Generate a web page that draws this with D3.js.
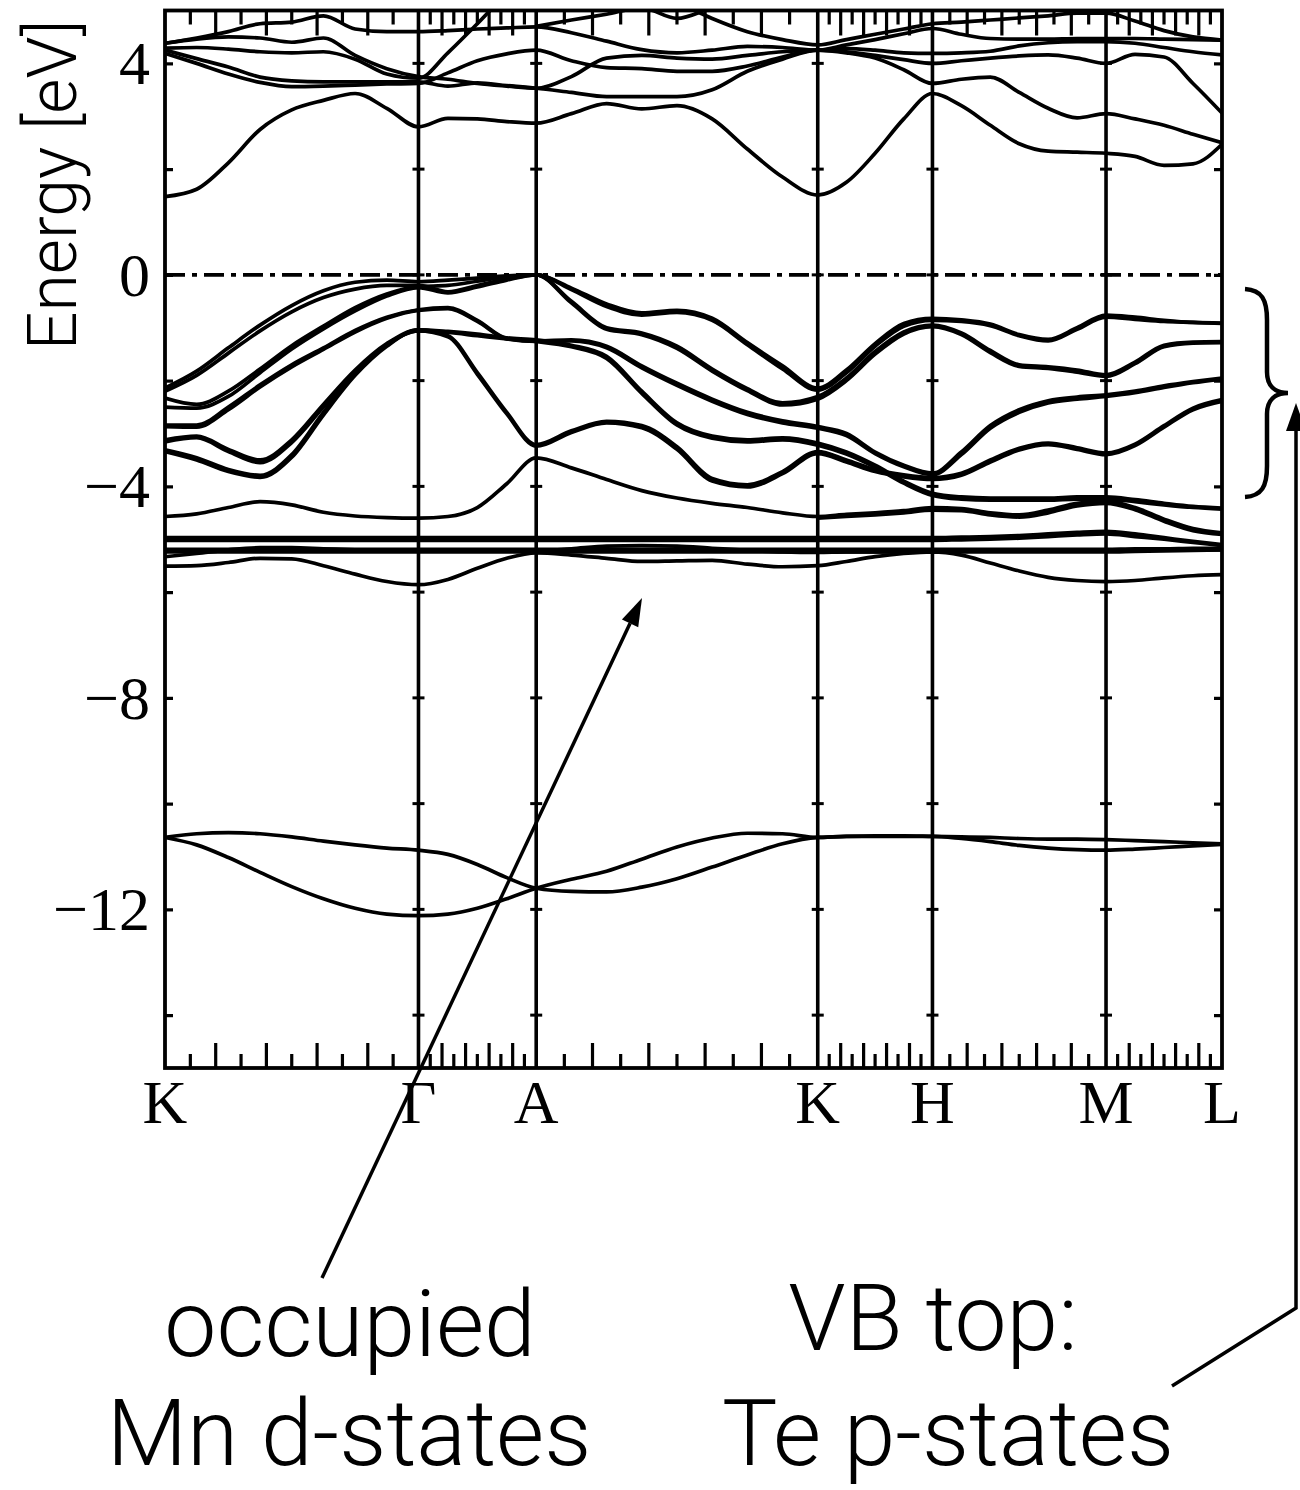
<!DOCTYPE html>
<html><head><meta charset="utf-8">
<script src="https://cdn.jsdelivr.net/npm/d3@7"></script>
<style>body{margin:0;background:#fff}</style>
</head><body>
<svg id="c" width="1300" height="1490"></svg>
<script>
// ---------- data ----------
const pathLabels = ["K","Γ","A","K","H","M","L"];
const pathK = [0, 1.012, 1.482, 2.606, 3.064, 3.757, 4.220];   // k-distance of high-symmetry points
const segSteps = [8, 4, 8, 4, 6, 4];                              // energy samples per path segment
const yTickValues = [4, 0, -4, -8, -12];
const yMinorValues = [4, 2, 0, -2, -4, -6, -8, -10, -12, -14];
const fermiLevel = 0;

// Te 5s bands
const bandsTeS = [
 [-10.64,-10.57,-10.55,-10.57,-10.63,-10.71,-10.78,-10.84,-10.88, -10.96,-11.15,-11.4,-11.6, -11.66,-11.67,-11.58,-11.42,-11.2,-10.97,-10.76,-10.64, -10.62,-10.61,-10.61,-10.62, -10.63,-10.64,-10.66,-10.67,-10.67,-10.68, -10.7,-10.72,-10.74,-10.76],
 [-10.64,-10.78,-11.02,-11.3,-11.57,-11.8,-11.98,-12.09,-12.12, -12.09,-11.98,-11.8,-11.6, -11.43,-11.28,-11.05,-10.82,-10.65,-10.56,-10.57,-10.64, -10.62,-10.62,-10.62,-10.62, -10.66,-10.72,-10.79,-10.84,-10.87,-10.88, -10.86,-10.83,-10.8,-10.77]
];

// Mn 3d (occupied) bands
const bandsMnD = [
 [-4.97,-4.97,-4.97,-4.97,-4.97,-4.97,-4.97,-4.97,-4.97, -4.97,-4.97,-4.97,-4.97, -4.97,-4.97,-4.97,-4.97,-4.97,-4.97,-4.97,-4.97, -4.97,-4.97,-4.97,-4.97, -4.96,-4.95,-4.93,-4.9,-4.87,-4.85, -4.9,-4.97,-5.04,-5.1],
 [-5.02,-5.02,-5.02,-5.02,-5.02,-5.02,-5.02,-5.02,-5.02, -5.02,-5.02,-5.02,-5.02, -5.02,-5.02,-5.02,-5.02,-5.02,-5.02,-5.02,-5.02, -5.02,-5.02,-5.02,-5.02, -5.01,-5.0,-4.98,-4.95,-4.92,-4.9, -4.95,-5.0,-5.06,-5.12],
 [-5.19,-5.19,-5.19,-5.19,-5.19,-5.19,-5.19,-5.19,-5.19, -5.19,-5.19,-5.19,-5.19, -5.19,-5.19,-5.19,-5.19,-5.19,-5.19,-5.19,-5.19, -5.19,-5.19,-5.19,-5.19, -5.19,-5.19,-5.19,-5.19,-5.19,-5.19, -5.18,-5.18,-5.17,-5.17],
 [-5.24,-5.24,-5.24,-5.24,-5.24,-5.24,-5.24,-5.24,-5.24, -5.24,-5.24,-5.24,-5.24, -5.24,-5.24,-5.24,-5.24,-5.24,-5.24,-5.24,-5.24, -5.24,-5.24,-5.24,-5.24, -5.24,-5.24,-5.24,-5.24,-5.24,-5.24, -5.23,-5.22,-5.21,-5.2],
 [-5.33,-5.27,-5.2,-5.16,-5.16,-5.18,-5.2,-5.21,-5.22, -5.22,-5.22,-5.22,-5.22, -5.18,-5.13,-5.12,-5.13,-5.17,-5.21,-5.24,-5.25, -5.24,-5.24,-5.24,-5.24, -5.23,-5.22,-5.22,-5.22,-5.21,-5.21, -5.21,-5.2,-5.2,-5.2],
 [-5.51,-5.5,-5.44,-5.36,-5.37,-5.5,-5.66,-5.8,-5.86, -5.76,-5.55,-5.36,-5.26, -5.3,-5.36,-5.42,-5.41,-5.4,-5.47,-5.52,-5.5, -5.42,-5.33,-5.27,-5.24, -5.3,-5.45,-5.6,-5.72,-5.78,-5.8, -5.78,-5.73,-5.69,-5.67],
 [-4.57,-4.52,-4.4,-4.29,-4.35,-4.49,-4.56,-4.59,-4.6, -4.57,-4.4,-3.95,-3.46, -3.65,-3.87,-4.08,-4.22,-4.32,-4.4,-4.5,-4.57, -4.53,-4.5,-4.46,-4.4, -4.42,-4.5,-4.54,-4.45,-4.32,-4.28, -4.4,-4.62,-4.8,-4.88],
 [null,null,null,null,null,null,null,null,null, null,null,null,null, null,null,null,null,null,null,null,-4.6, -4.57,-4.54,-4.5,-4.45, -4.46,-4.54,-4.58,-4.5,-4.37,-4.32, -4.44,-4.66,-4.84,-4.91]
];

// Te 5p valence bands
const bandsValence = [
 [-2.14,-1.82,-1.38,-0.95,-0.58,-0.3,-0.14,-0.1,-0.13, -0.1,-0.06,-0.02,0.0, -0.25,-0.55,-0.72,-0.67,-0.82,-1.28,-1.72,-2.14, -1.8,-1.3,-0.92,-0.82, -0.85,-0.93,-1.13,-1.22,-1.0,-0.76, -0.8,-0.86,-0.9,-0.91],
 [-2.33,-2.45,-2.2,-1.78,-1.34,-0.97,-0.62,-0.36,-0.22, -0.2,-0.12,-0.04,0.0, -0.28,-0.6,-0.76,-0.71,-0.86,-1.32,-1.78,-2.18, -1.85,-1.35,-0.97,-0.86, -0.88,-0.96,-1.15,-1.25,-1.03,-0.8, -0.84,-0.88,-0.9,-0.92],
 [-2.2,-1.9,-1.48,-1.06,-0.7,-0.43,-0.27,-0.2,-0.2, -0.32,-0.2,-0.08,0.0, -0.5,-1.0,-1.1,-1.35,-1.78,-2.15,-2.42,-2.3, -1.95,-1.45,-1.08,-0.95, -1.1,-1.43,-1.7,-1.74,-1.8,-1.89, -1.65,-1.33,-1.27,-1.26],
 [-2.5,-2.52,-2.3,-1.85,-1.4,-1.02,-0.68,-0.4,-0.24, -0.34,-0.23,-0.1,0.0, -0.53,-1.03,-1.13,-1.39,-1.82,-2.19,-2.46,-2.35, -2.0,-1.5,-1.12,-0.98, -1.13,-1.47,-1.73,-1.77,-1.84,-1.92, -1.68,-1.36,-1.29,-1.28],
 [-2.84,-2.84,-2.5,-2.08,-1.7,-1.38,-1.05,-0.8,-0.66, -0.62,-0.86,-1.2,-1.25, -1.23,-1.35,-1.72,-2.05,-2.35,-2.6,-2.76,-2.87, -3.0,-3.35,-3.6,-3.75, -3.35,-2.85,-2.55,-2.38,-2.31,-2.27, -2.2,-2.1,-2.02,-1.95],
 [-2.87,-2.88,-2.55,-2.12,-1.74,-1.41,-1.08,-0.82,-0.67, -0.64,-0.88,-1.21,-1.26, -1.25,-1.38,-1.76,-2.09,-2.39,-2.64,-2.8,-2.9, -3.04,-3.38,-3.63,-3.78, -3.4,-2.9,-2.6,-2.42,-2.35,-2.3, -2.23,-2.13,-2.04,-1.97],
 [-3.12,-3.05,-3.3,-3.5,-3.12,-2.45,-1.8,-1.3,-1.04, -1.15,-1.85,-2.6,-3.21, -2.95,-2.77,-2.85,-3.25,-3.85,-3.97,-3.72,-3.34, -3.5,-3.68,-3.78,-3.83, -3.75,-3.5,-3.28,-3.18,-3.27,-3.37, -3.2,-2.85,-2.52,-2.36],
 [-3.16,-3.08,-3.34,-3.55,-3.17,-2.5,-1.84,-1.33,-1.06, -1.17,-1.88,-2.63,-3.24, -2.98,-2.8,-2.89,-3.3,-3.9,-4.01,-3.76,-3.38, -3.54,-3.72,-3.82,-3.87, -3.79,-3.54,-3.31,-3.21,-3.3,-3.4, -3.23,-2.88,-2.55,-2.39],
 [-3.34,-3.5,-3.72,-3.83,-3.45,-2.65,-1.9,-1.35,-1.04, -1.07,-1.12,-1.19,-1.23, -1.33,-1.54,-2.2,-2.8,-3.05,-3.12,-3.08,-3.18, -3.35,-3.6,-3.9,-4.13, -4.2,-4.22,-4.22,-4.22,-4.2,-4.2, -4.25,-4.32,-4.38,-4.41],
 [-3.31,-3.46,-3.68,-3.79,-3.4,-2.6,-1.86,-1.32,-1.06, -1.09,-1.15,-1.21,-1.26, -1.36,-1.58,-2.24,-2.84,-3.09,-3.16,-3.12,-3.22, -3.39,-3.64,-3.94,-4.17, -4.24,-4.26,-4.26,-4.26,-4.24,-4.24, -4.29,-4.35,-4.4,-4.43]
];

// conduction bands
const bandsConduction = [
 [1.48,1.62,2.12,2.75,3.12,3.3,3.43,3.15,2.8, 2.96,2.95,2.9,2.87, 3.05,3.24,3.14,3.2,2.95,2.38,1.85,1.51, 1.75,2.3,2.95,3.43, 3.2,2.83,2.48,2.34,2.32,2.3, 2.24,2.07,2.1,2.47],
 [4.25,4.09,3.93,3.74,3.67,3.65,3.65,3.65,3.65, 3.57,3.63,3.58,3.53, 3.45,3.37,3.37,3.37,3.5,3.85,4.08,4.25, 4.2,4.1,3.88,3.62, 3.7,3.74,3.45,3.15,2.97,3.05, 2.95,2.83,2.66,2.5],
 [4.19,4.0,3.8,3.64,3.56,3.57,3.59,3.61,3.62, 3.82,4.05,4.18,4.25, 4.05,3.92,3.9,3.85,3.85,3.95,4.12,4.25, 4.22,4.15,4.07,4.0, 4.05,4.1,4.14,4.16,4.1,4.0, 4.17,4.12,3.62,3.06],
 [4.29,4.3,4.27,4.22,4.2,4.22,4.08,3.8,3.72, 4.2,4.75,5.3,5.6, 5.7,5.6,5.35,5.15,4.85,4.6,4.45,4.35, 4.45,4.55,4.65,4.75, 4.78,4.82,4.86,4.9,4.95,4.95, 4.8,4.62,4.5,4.44],
 [4.38,4.46,4.5,4.48,4.4,4.48,4.15,3.9,3.75, 3.7,3.62,3.57,3.53, 3.75,4.1,4.15,4.1,4.08,4.15,4.22,4.25, 4.28,4.25,4.2,4.19, 4.2,4.23,4.33,4.39,4.41,4.41, 4.38,4.3,4.22,4.16],
 [4.38,4.48,4.6,4.75,4.78,4.9,4.65,4.6,4.6, 4.62,4.65,4.67,4.69, 4.58,4.42,4.26,4.2,4.25,4.32,4.3,4.25, 4.35,4.45,4.56,4.66, 4.55,4.47,4.46,4.46,4.47,4.47, 4.47,4.46,4.45,4.44],
 [null,null,null,null,null,null,null,null,null, null,null,null,4.7, 4.82,4.93,5.05,4.85,5.05,5.2,null,null, null,null,null,null, null,null,null,null,null,null, null,null,null,null]
];

// ---------- layout ----------
(function draw() {
const svg = d3.select("#c");
const pL = 165, pR = 1222, pT = 10.5, pB = 1068;
const x = d3.scaleLinear().domain([pathK[0], pathK[pathK.length-1]]).range([pL, pR]);
const y = d3.scaleLinear().domain([-15, 5]).range([pB, pT]);

// k grid
const kGrid = [pathK[0]];
segSteps.forEach((n, i) => {
  for (let j = 1; j <= n; j++) kGrid.push(pathK[i] + (pathK[i+1] - pathK[i]) * j / n);
});

svg.append("defs").append("clipPath").attr("id", "plotclip")
  .append("rect").attr("x", pL).attr("y", y(5)).attr("width", pR - pL).attr("height", y(-15) - y(5));

const serif = "'Liberation Serif','Times New Roman',serif";
const sans = "Roboto,'Liberation Sans',Arial,sans-serif";

// Fermi level dash-dot
svg.append("line")
  .attr("x1", x(pathK[0])).attr("x2", x(pathK[pathK.length-1]))
  .attr("y1", y(fermiLevel)).attr("y2", y(fermiLevel))
  .attr("stroke", "#000").attr("stroke-width", 3.6)
  .attr("stroke-dasharray", "20,7,5,7");

// bands
const line = d3.line()
  .defined(d => d[1] !== null)
  .x(d => x(d[0])).y(d => y(d[1]))
  .curve(d3.curveMonotoneX);

const gBands = svg.append("g").attr("clip-path", "url(#plotclip)");
[bandsTeS, bandsMnD, bandsValence, bandsConduction].forEach(group => {
  group.forEach(b => {
    gBands.append("path")
      .attr("d", line(b.map((e, i) => [kGrid[i], e])))
      .attr("fill", "none").attr("stroke", "#000").attr("stroke-width", 3.7)
      .attr("stroke-linejoin", "round");
  });
});

// high-symmetry vertical lines
const inner = pathK.slice(1, -1);
svg.append("g").selectAll("line").data(inner).join("line")
  .attr("x1", d => x(d)).attr("x2", d => x(d))
  .attr("y1", y(5)).attr("y2", y(-15))
  .attr("stroke", "#000").attr("stroke-width", 3.6);

// small energy ticks on vertical lines
const gv = svg.append("g");
inner.forEach(k => {
  gv.append("g").selectAll("line").data(yMinorValues).join("line")
    .attr("x1", x(k) - 6).attr("x2", x(k) + 6)
    .attr("y1", d => y(d)).attr("y2", d => y(d))
    .attr("stroke", "#000").attr("stroke-width", 3);
});

// frame
svg.append("rect").attr("x", pL).attr("y", y(5))
  .attr("width", pR - pL).attr("height", y(-15) - y(5))
  .attr("fill", "none").attr("stroke", "#000").attr("stroke-width", 3.8);

// y axis (left, inward ticks) and right inward ticks
const yAxisL = d3.axisRight(y).tickValues(yMinorValues).tickSize(8).tickFormat("");
svg.append("g").attr("transform", `translate(${pL},0)`).call(yAxisL)
  .call(g => g.select(".domain").remove())
  .call(g => g.selectAll("line").attr("stroke-width", 3.2));
const yAxisR = d3.axisLeft(y).tickValues(yMinorValues).tickSize(8).tickFormat("");
svg.append("g").attr("transform", `translate(${pR},0)`).call(yAxisR)
  .call(g => g.select(".domain").remove())
  .call(g => g.selectAll("line").attr("stroke-width", 3.2));

// y tick labels
svg.append("g").selectAll("text").data(yTickValues).join("text")
  .attr("x", 150).attr("y", d => y(d) + 21)
  .attr("text-anchor", "end")
  .attr("font-family", serif).attr("font-size", 62)
  .text(d => d < 0 ? "\u2212" + Math.abs(d) : String(d));

// x minor ticks: 10 subdivisions per segment, alternating short/long, bottom and top
const xMinor = [];
for (let i = 0; i < pathK.length - 1; i++) {
  for (let j = 1; j < 10; j++) xMinor.push({k: pathK[i] + (pathK[i+1] - pathK[i]) * j / 10, long: j % 2 === 0});
}
const gx = svg.append("g");
gx.append("g").selectAll("line").data(xMinor).join("line")
  .attr("x1", d => x(d.k)).attr("x2", d => x(d.k))
  .attr("y1", pB).attr("y2", d => pB - (d.long ? 25 : 14))
  .attr("stroke", "#000").attr("stroke-width", 3.2);
gx.append("g").selectAll("line").data(xMinor).join("line")
  .attr("x1", d => x(d.k)).attr("x2", d => x(d.k))
  .attr("y1", y(5)).attr("y2", d => y(5) + (d.long ? 25 : 14))
  .attr("stroke", "#000").attr("stroke-width", 3.2);

// x labels
svg.append("g").selectAll("text").data(pathLabels).join("text")
  .attr("x", (d, i) => x(pathK[i])).attr("y", 1123)
  .attr("text-anchor", "middle")
  .attr("font-family", serif).attr("font-size", 62)
  .text(d => d);

// y title
svg.append("text")
  .attr("transform", "translate(76,185) rotate(-90)")
  .attr("text-anchor", "middle")
  .attr("font-family", sans).attr("font-weight", 300).attr("font-size", 68)
  .text("Energy [eV]");

// ---------- annotations ----------
function arrowHead(g, x1, y1, x2, y2, len, half) {
  const a = Math.atan2(y2 - y1, x2 - x1);
  const bx = x2 - len * Math.cos(a), by = y2 - len * Math.sin(a);
  const px = -Math.sin(a) * half, py = Math.cos(a) * half;
  g.append("path").attr("d", `M${x2},${y2}L${bx+px},${by+py}L${bx-px},${by-py}Z`).attr("fill", "#000");
  return [bx, by];
}
const ga = svg.append("g");
{
  const [bx, by] = arrowHead(ga, 322, 1278, 642, 598, 28, 9);
  ga.append("line").attr("x1", 322).attr("y1", 1278).attr("x2", bx).attr("y2", by)
    .attr("stroke", "#000").attr("stroke-width", 3.5);
}
{
  const [bx, by] = arrowHead(ga, 1296, 1308, 1296, 403, 28, 10);
  ga.append("path").attr("d", `M1172,1386L1296,1308L${bx},${by}`)
    .attr("fill", "none").attr("stroke", "#000").attr("stroke-width", 3.5);
}
ga.append("path")
  .attr("d", "M1245,289 C1262,290 1267,300 1267,320 L1267,372 C1267,386 1275,393 1288,393 C1275,393 1267,400 1267,414 L1267,466 C1267,486 1262,496 1245,497")
  .attr("fill", "none").attr("stroke", "#000").attr("stroke-width", 4.5);

const notes = [
  {t: "occupied", x: 350, y: 1356},
  {t: "Mn d-states", x: 349, y: 1465},
  {t: "VB top:", x: 933, y: 1350},
  {t: "Te p-states", x: 948, y: 1465}
];
ga.append("g").selectAll("text").data(notes).join("text")
  .attr("x", d => d.x).attr("y", d => d.y)
  .attr("text-anchor", "middle")
  .attr("font-family", sans).attr("font-weight", 300).attr("font-size", 93)
  .text(d => d.t);
})();
</script>
</body></html>
